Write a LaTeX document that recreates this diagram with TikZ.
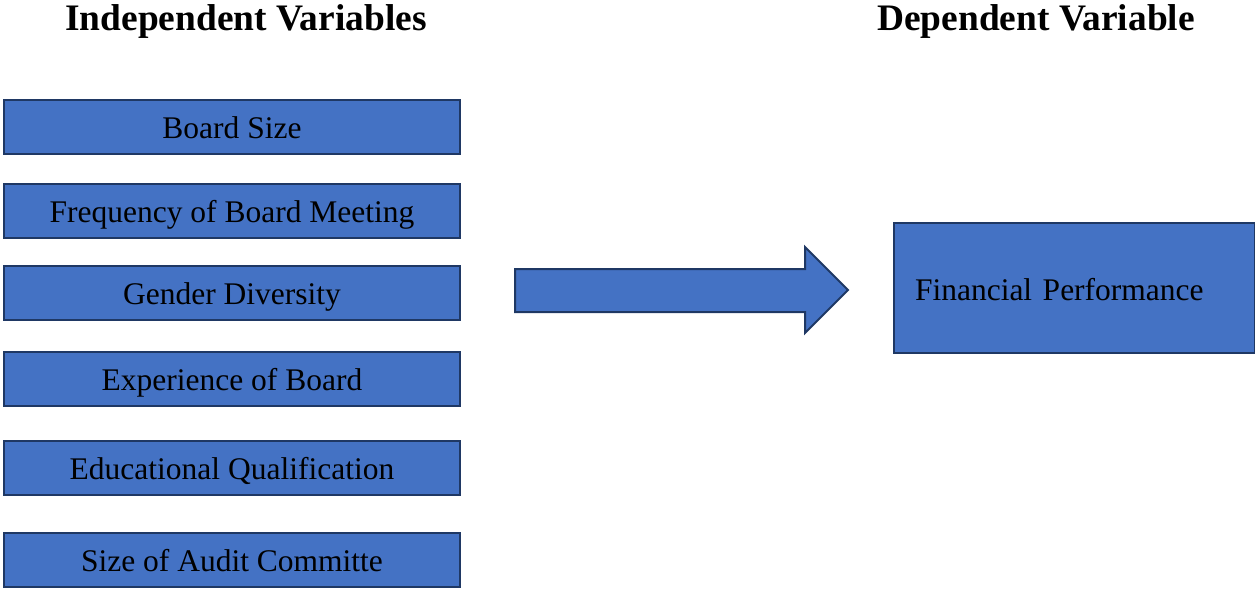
\documentclass[tikz,border=0pt]{standalone}
\usepackage{fontspec}
\setmainfont{Liberation Serif}
\definecolor{boxfill}{HTML}{4472C4}
\definecolor{boxline}{HTML}{1F3864}
\begin{document}
\begin{tikzpicture}[x=1pt,y=-1pt,
  varbox/.style={draw=boxline,fill=boxfill,line width=2pt,minimum width=456pt,minimum height=54pt,inner sep=0pt,text height=30pt,text depth=8pt,font=\fontsize{31.5}{36}\selectfont,anchor=north west},
  title/.style={font=\bfseries\fontsize{37.4}{42}\selectfont}]
\useasboundingbox (0,0) rectangle (1255,590);
\node[title] (ti) at (246,22) {Independent Variables};
\node[title] (td) at (1036,22) {Dependent Variable};
\node[varbox] (b1) at (3,99) {Board Size};
\node[varbox] (b2) at (3,183) {Frequency of Board Meeting};
\node[varbox] (b3) at (3,265) {Gender Diversity};
\node[varbox] (b4) at (3,351) {Experience of Board};
\node[varbox] (b5) at (3,440) {Educational Qualification};
\node[varbox] (b6) at (3,532) {Size of Audit Committe};
\node[draw=boxline,fill=boxfill,line width=2pt,minimum width=361pt,minimum height=130pt,inner sep=0pt,text height=32pt,text depth=8pt,anchor=north west,font=\fontsize{31.5}{36}\selectfont,text width=361pt,align=left] (fp) at (893,222) {\hspace*{21pt}Financial Performance};
\draw[draw=boxline,fill=boxfill,line width=2pt,line join=miter]
  (515,269) -- (805,269) -- (805,247) -- (848,290) -- (805,333) -- (805,312) -- (515,312) -- cycle;
\end{tikzpicture}
\end{document}
